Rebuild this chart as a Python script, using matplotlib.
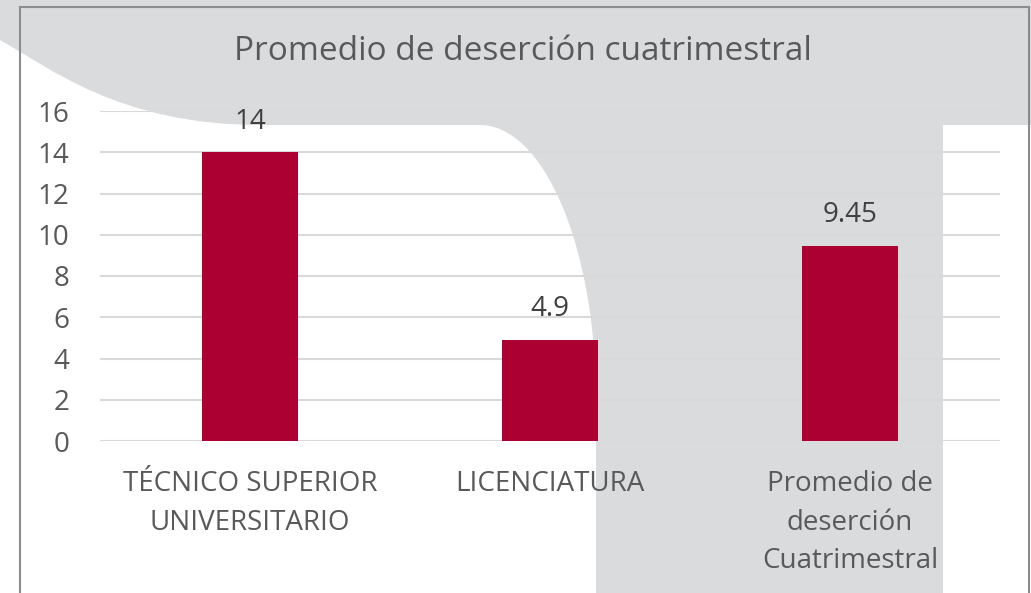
import matplotlib
matplotlib.use("Agg")
import numpy as np
import matplotlib.pyplot as plt
from matplotlib.path import Path
from matplotlib.patches import PathPatch, Rectangle

categories = ["TÉCNICO SUPERIOR\nUNIVERSITARIO", "LICENCIATURA", "Promedio de\ndeserción\nCuatrimestral"]
values = [14, 4.9, 9.45]
value_labels = ["14", "4.9", "9.45"]
yticks = [0, 2, 4, 6, 8, 10, 12, 14, 16]
title = "Promedio de deserción cuatrimestral"

FONT = ["Open Sans", "DejaVu Sans"]
plt.rcParams["font.family"] = FONT

W, H = 1031, 593
fig = plt.figure(figsize=(W / 100, H / 100), dpi=100)
fig.patch.set_facecolor("white")

def P(x, y):
    return (x / W, 1 - y / H)

gray = "#dadbdd"
# background decoration: gray fill
fig.patches.append(Rectangle((0, 0), 1, 1, transform=fig.transFigure,
                             facecolor=gray, edgecolor="none", zorder=-3))
# white region bottom-left with curved edges
verts = [P(0, 40), P(50, 68), P(120, 125), P(260, 125), P(480, 125)]
codes = [Path.MOVETO, Path.CURVE4, Path.CURVE4, Path.CURVE4, Path.LINETO]
th = np.linspace(np.pi / 2, 0, 60)
for t in th[1:]:
    verts.append(P(480 + 116 * np.cos(t), 400 - 275 * np.sin(t)))
    codes.append(Path.LINETO)
for pt in [(596, 600), (0, 600), (0, 40)]:
    verts.append(P(*pt))
    codes.append(Path.LINETO)
codes[-1] = Path.CLOSEPOLY
fig.patches.append(PathPatch(Path(verts, codes), transform=fig.transFigure,
                             facecolor="white", edgecolor="none", zorder=-2))
# white strip at right
x0, y0 = P(943, 600)
x1, y1 = P(1031, 125)
fig.patches.append(Rectangle((x0, y0), x1 - x0 + 0.01, y1 - y0, transform=fig.transFigure,
                             facecolor="white", edgecolor="none", zorder=-2))
# chart border
bx0, by0 = P(20, 600)
bx1, by1 = P(1029, 7)
fig.patches.append(Rectangle((bx0, by0), bx1 - bx0, by1 - by0, transform=fig.transFigure,
                             facecolor="none", edgecolor="#8c8c8c", linewidth=1.5, zorder=-1))

left, right = 100 / W, 1000 / W
bottom, top = 1 - 441 / H, 1 - 111 / H
ax = fig.add_axes([left, bottom, right - left, top - bottom])
ax.set_facecolor("none")

x = list(range(len(categories)))
ax.bar(x, values, width=0.317, color="#ac0033", zorder=3)
ax.set_xlim(-0.5, len(categories) - 0.5)
ax.set_ylim(0, 16)
ax.set_yticks(yticks)
ax.set_yticklabels([str(t) for t in yticks])
ax.yaxis.grid(True, color="#d9d9d9", linewidth=1.5, zorder=0)
ax.set_axisbelow(True)
for s in ax.spines.values():
    s.set_visible(False)
ax.tick_params(axis="y", length=0, pad=22, labelsize=20, labelcolor="#595959")
ax.set_xticks(x)
ax.set_xticklabels(categories, fontsize=20, color="#595959", linespacing=1.5)
ax.tick_params(axis="x", length=0, pad=21)

for xi, v, lab in zip(x, values, value_labels):
    ax.annotate(lab, (xi, v), xytext=(0, 12), textcoords="offset points",
                ha="center", va="bottom", fontsize=20, color="#404040")

fig.text(523 / W, 1 - 52 / H, title, ha="center", va="center", fontsize=24, color="#595959")

fig.savefig("out.png", dpi=100)
